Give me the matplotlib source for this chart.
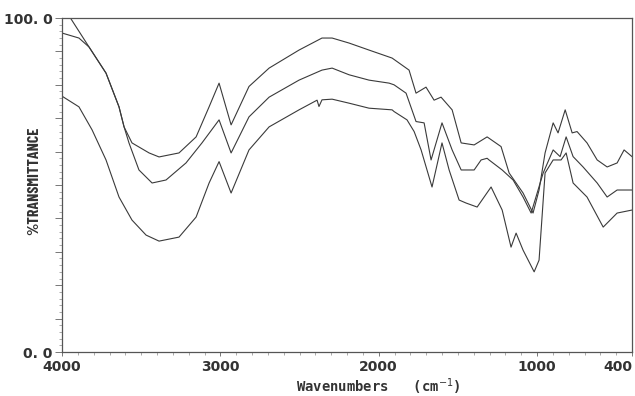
#!/usr/bin/env python3
"""IR spectra: three overlaid %T traces, 4000-400 cm-1"""

import matplotlib
matplotlib.use("Agg")
import matplotlib.pyplot as plt
from matplotlib.ticker import MultipleLocator, FuncFormatter

# trace A (top)
wn_a = [4000, 3893, 3829, 3722, 3640, 3608, 3558, 3450, 3387, 3261, 3153, 3071,
        3008, 2932, 2819, 2692, 2503, 2358, 2294, 2187, 2061, 1915, 1808, 1789,
        1764, 1701, 1650, 1606, 1536, 1479, 1397, 1315, 1227, 1176, 1088, 1025,
        987, 949, 898, 867, 822, 778, 747, 684, 620, 557, 494, 450, 400]
t_a = [95.5, 94.0, 91.3, 83.5, 73.4, 67.4, 62.6, 59.6, 58.4, 59.6, 64.4, 73.4,
       80.5, 68.0, 79.5, 85.0, 90.4, 94.0, 94.0, 92.5, 90.4, 88.0, 84.4, 81.4,
       77.5, 79.3, 75.4, 76.3, 72.5, 62.6, 62.0, 64.4, 61.5, 53.6, 47.6, 41.6,
       48.5, 59.6, 68.6, 65.6, 72.5, 65.6, 66.0, 62.6, 57.5, 55.4, 56.6, 60.5, 58.5]

# trace B (middle)
wn_b = [4000, 3940, 3829, 3722, 3640, 3608, 3577, 3514, 3431, 3343, 3217, 3116,
        3008, 2932, 2819, 2692, 2503, 2358, 2294, 2187, 2061, 1934, 1903, 1827,
        1764, 1713, 1669, 1600, 1536, 1479, 1397, 1353, 1315, 1303, 1220, 1151,
        1088, 1037, 961, 898, 854, 816, 772, 709, 620, 557, 494, 400]
t_b = [104.0, 99.5, 91.3, 83.5, 73.4, 67.4, 62.6, 54.5, 50.6, 51.5, 56.6, 62.6,
       69.5, 59.6, 70.4, 76.3, 81.4, 84.4, 85.0, 83.0, 81.4, 80.5, 80.0, 77.5,
       69.0, 68.6, 57.5, 68.6, 60.5, 54.5, 54.5, 57.5, 58.0, 57.5, 54.5, 51.5,
       46.4, 41.6, 53.6, 60.5, 58.5, 64.4, 58.5, 55.4, 50.6, 46.4, 48.5, 48.5]

# trace C (bottom)
wn_c = [4000, 3893, 3810, 3722, 3640, 3558, 3469, 3387, 3261, 3153, 3071, 3008,
        2932, 2819, 2692, 2503, 2389, 2377, 2358, 2294, 2187, 2061, 1915, 1903,
        1821, 1776, 1732, 1663, 1600, 1555, 1492, 1448, 1378, 1290, 1220, 1164,
        1132, 1088, 1018, 987, 949, 898, 848, 816, 772, 684, 582, 494, 400]
t_c = [76.6, 73.4, 66.5, 57.5, 46.4, 39.5, 35.0, 33.2, 34.4, 40.4, 50.6, 57.0,
       47.6, 60.5, 67.4, 72.5, 75.4, 73.5, 75.5, 75.7, 74.5, 73.0, 72.5, 72.0,
       69.5, 66.0, 60.5, 49.4, 62.6, 54.5, 45.5, 44.6, 43.4, 49.4, 42.5, 31.4,
       35.6, 30.5, 24.0, 27.5, 53.6, 57.5, 57.5, 59.6, 50.6, 46.4, 37.4, 41.6, 42.5]

x_ticks = [4000, 3000, 2000, 1000, 400]
y_labels = {0: "0. 0", 100: "100. 0"}

fig = plt.figure(figsize=(6.35, 3.96), dpi=100)
ax = fig.add_axes([62 / 635, 44 / 396, 570 / 635, 334 / 396])

for wn, t in [(wn_a, t_a), (wn_b, t_b), (wn_c, t_c)]:
    ax.plot(wn, t, color="#3a3a3a", linewidth=0.8)

ax.set_xlim(4000, 400)
ax.set_ylim(0, 100)

for side in ax.spines.values():
    side.set_linewidth(0.9)
    side.set_color("#555555")

ax.set_xticks(x_ticks)
ax.xaxis.set_minor_locator(MultipleLocator(100))
ax.yaxis.set_major_locator(MultipleLocator(10))
ax.yaxis.set_minor_locator(MultipleLocator(2))
ax.yaxis.set_major_formatter(FuncFormatter(
    lambda v, pos: y_labels.get(int(round(v)), "")))

ax.tick_params(axis="x", which="major", direction="out", length=3,
               width=0.7, color="#777777", labelsize=10, pad=3)
ax.tick_params(axis="y", which="major", direction="out", length=5,
               width=0.7, color="#777777", labelsize=10, pad=2)
ax.tick_params(axis="both", which="minor", direction="out", length=2.5,
               width=0.5, color="#888888")
for lab in ax.get_xticklabels() + ax.get_yticklabels():
    lab.set_fontweight("bold")
    lab.set_color("#333333")
# last label sits on the right edge; keep it inside the picture
ax.get_xticklabels()[-1].set_horizontalalignment("right")

# axis titles placed in figure pixels to match the scan
fig.text(378 / 635, 1 - 387 / 396, "Wavenumbers   (cm$^{-1}$)",
         family="DejaVu Sans Mono", fontsize=10, fontweight="bold",
         color="#333333", ha="center", va="center")
fig.text(34.5 / 635, 1 - 180.5 / 396, "%TRANSMITTANCE",
         family=["Barlow Condensed", "DejaVu Sans"], fontsize=11.5,
         fontweight="bold", color="#333333", rotation=90, ha="center", va="center")

plt.savefig("out.png", dpi=100)
plt.close()
